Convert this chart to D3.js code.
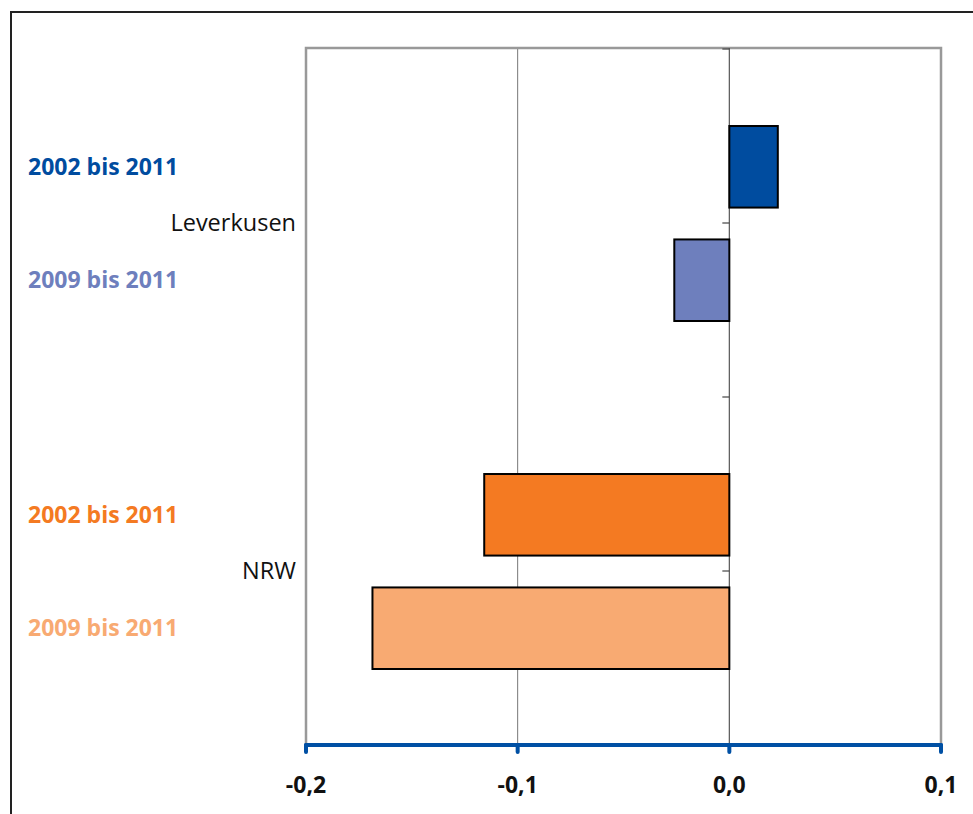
<!DOCTYPE html>
<html>
<head>
<meta charset="utf-8">
<script src="https://cdn.jsdelivr.net/npm/d3@7"></script>
<style>
  html, body { margin: 0; padding: 0; background: #fff; }
  svg { display: block; font-family: "Open Sans", "Noto Sans", sans-serif; }
</style>
</head>
<body>
<svg id="chart" width="973" height="814"></svg>
<script>
// ---- data ----
const groups = ["Leverkusen", "NRW"];
const periods = ["2002 bis 2011", "2009 bis 2011"];
const leverkusenValues = [0.0229, -0.0260];
const nrwValues = [-0.1158, -0.1686];
const xTicks = [-0.2, -0.1, 0.0, 0.1];
const xTickLabels = ["-0,2", "-0,1", "0,0", "0,1"];
const leverkusenColors = ["#004c9f", "#6e7fbd"];
const nrwColors = ["#f47a22", "#f8aa72"];

(function () {
const rows = [];
groups.forEach((g, gi) => {
  const vals = gi === 0 ? leverkusenValues : nrwValues;
  const cols = gi === 0 ? leverkusenColors : nrwColors;
  periods.forEach((p, pi) => rows.push({ group: g, period: p, value: vals[pi], color: cols[pi] }));
});

const svg = d3.select("#chart");

// outer frame
svg.append("rect")
  .attr("x", 11).attr("y", 12).attr("width", 1000).attr("height", 900)
  .attr("fill", "none").attr("stroke", "#222").attr("stroke-width", 2);

const pLeft = 306, pRight = 941, pTop = 48, pBottom = 745;

const x = d3.scaleLinear().domain([-0.2, 0.1]).range([pLeft, pRight]);
const yGroup = d3.scaleBand().domain(groups).range([pTop + 1, pBottom]).padding(0);
const yInner = d3.scaleBand().domain(periods)
  .range([yGroup.bandwidth() * 0.2213, yGroup.bandwidth() * 0.7816])
  .paddingInner(0.281).paddingOuter(0);

// gridlines
svg.append("g").selectAll("line").data(xTicks.filter(t => t > -0.2 && t < 0.1 && t !== 0))
  .join("line")
  .attr("x1", d => x(d)).attr("x2", d => x(d))
  .attr("y1", pTop).attr("y2", pBottom)
  .attr("stroke", "#777").attr("stroke-width", 1);

// plot border (left, top, right)
svg.append("path")
  .attr("d", `M${pLeft},${pBottom} L${pLeft},${pTop} L${pRight},${pTop} L${pRight},${pBottom}`)
  .attr("fill", "none").attr("stroke", "#999").attr("stroke-width", 2.5);

// y axis at zero with ticks at category boundaries
const zeroX = x(0);
svg.append("line")
  .attr("x1", zeroX).attr("x2", zeroX).attr("y1", pTop).attr("y2", pBottom)
  .attr("stroke", "#555").attr("stroke-width", 1.2);
const boundaries = [];
groups.forEach(g => {
  const y0 = yGroup(g);
  boundaries.push(y0);
  boundaries.push(y0 + yGroup.bandwidth() / 2);
});
boundaries.push(pBottom);
svg.append("g").selectAll("line").data(boundaries).join("line")
  .attr("x1", zeroX - 7).attr("x2", zeroX)
  .attr("y1", d => d).attr("y2", d => d)
  .attr("stroke", "#444").attr("stroke-width", 1.2);

// bars
svg.append("g").selectAll("rect").data(rows).join("rect")
  .attr("x", d => x(Math.min(0, d.value)))
  .attr("width", d => Math.abs(x(d.value) - x(0)))
  .attr("y", d => yGroup(d.group) + yInner(d.period))
  .attr("height", yInner.bandwidth())
  .attr("fill", d => d.color)
  .attr("stroke", "#000").attr("stroke-width", 2);

// x axis (blue)
const axisG = svg.append("g").attr("transform", `translate(0,${pBottom})`);
axisG.append("line")
  .attr("x1", x(-0.2)).attr("x2", x(0.1)).attr("y1", 0).attr("y2", 0)
  .attr("stroke", "#0050a4").attr("stroke-width", 4).attr("stroke-linecap", "round");
axisG.selectAll("line.tick").data(xTicks).join("line").attr("class", "tick")
  .attr("x1", d => x(d)).attr("x2", d => x(d)).attr("y1", 0).attr("y2", 7)
  .attr("stroke", "#0050a4").attr("stroke-width", 4).attr("stroke-linecap", "round");
axisG.selectAll("text").data(xTicks).join("text")
  .attr("x", d => x(d)).attr("y", 48)
  .attr("text-anchor", "middle")
  .attr("font-size", 23).attr("font-weight", "bold").attr("fill", "#111")
  .text((d, i) => xTickLabels[i]);

// category labels
svg.append("g").selectAll("text").data(groups).join("text")
  .attr("x", 296)
  .attr("y", d => yGroup(d) + yGroup.bandwidth() / 2 + 8)
  .attr("text-anchor", "end")
  .attr("font-size", 23.5).attr("fill", "#111")
  .text(d => d);

svg.append("g").selectAll("text").data(rows).join("text")
  .attr("x", 28)
  .attr("y", d => yGroup(d.group) + yInner(d.period) + yInner.bandwidth() / 2 + 8)
  .attr("font-size", 23).attr("font-weight", "bold")
  .attr("fill", d => d.color)
  .text(d => d.period);
})();
</script>
</body>
</html>
